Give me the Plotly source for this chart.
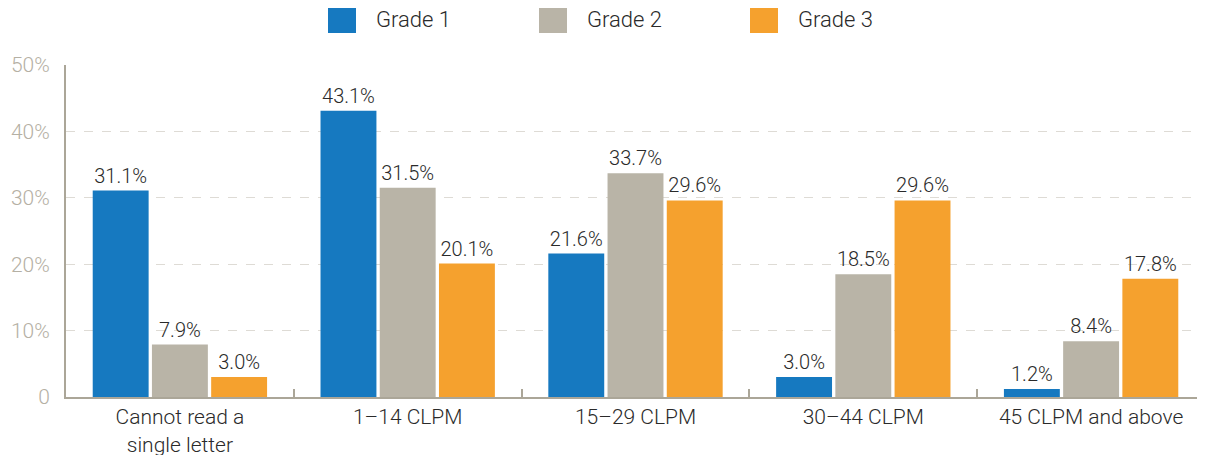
import plotly.graph_objects as go

categories = ["Cannot read a<br>single letter", "1–14 CLPM", "15–29 CLPM", "30–44 CLPM", "45 CLPM and above"]
series_names = ["Grade 1", "Grade 2", "Grade 3"]
grade1 = [31.1, 43.1, 21.6, 3.0, 1.2]
grade2 = [7.9, 31.5, 33.7, 18.5, 8.4]
grade3 = [3.0, 20.1, 29.6, 29.6, 17.8]
y_ticks = [0, 10, 20, 30, 40, 50]
y_tick_labels = ["0", "10%", "20%", "30%", "40%", "50%"]

colors = ["#1679C0", "#B9B4A7", "#F5A12E"]
font = "Roboto, Open Sans, sans-serif"
txt = "#2a2a2a"

fig = go.Figure()
for name, vals, col in zip(series_names, [grade1, grade2, grade3], colors):
    fig.add_trace(go.Bar(
        x=categories, y=vals, name=name,
        marker=dict(color=col, line=dict(width=0)),
        text=[f"{v:.1f}%" for v in vals], textposition="outside",
        textfont=dict(size=20, color=txt, family=font, weight=300),
        cliponaxis=False,
    ))

# legend drawn as large squares above the plot (page pixel positions)
plot_l, plot_w, plot_b, plot_h = 66, 1139, 397, 332
for i, (name, col) in enumerate(zip(series_names, colors)):
    x0 = 328 + i * 211
    fig.add_shape(type="rect", xref="paper", yref="paper",
                  x0=(x0 - plot_l) / plot_w, x1=(x0 + 28 - plot_l) / plot_w,
                  y0=(plot_b - 33) / plot_h, y1=(plot_b - 5) / plot_h,
                  fillcolor=col, line=dict(width=0))
    fig.add_annotation(xref="paper", yref="paper", x=(x0 + 46 - plot_l) / plot_w,
                       y=(plot_b - 19) / plot_h, text=name, showarrow=False,
                       xanchor="left", yanchor="middle",
                       font=dict(size=22, color=txt, family=font, weight=300))

fig.update_layout(
    width=1197, height=447,
    margin=dict(l=58, r=0, t=57, b=58),
    plot_bgcolor="white", paper_bgcolor="white",
    barmode="group", bargap=0.22, bargroupgap=0.056,
    showlegend=False,
    font=dict(family=font),
)
fig.update_xaxes(
    showline=True, linecolor="#ABA698", linewidth=2,
    ticks="inside", tickson="boundaries", ticklen=8, tickcolor="#ABA698", tickwidth=2,
    tickfont=dict(size=21, color=txt, family=font, weight=300),
    showgrid=False, automargin=False,
)
fig.update_yaxes(
    range=[0, 50], tickvals=y_ticks, ticktext=y_tick_labels,
    showline=True, linecolor="#ABA698", linewidth=2,
    showgrid=True, gridcolor="#DEDBD5", griddash="dash", gridwidth=1,
    zeroline=False, ticks="", ticklabelstandoff=10, automargin=False,
    tickfont=dict(size=21, color="#B5B0A4", family=font, weight=300),
)

fig.write_html("out.html")
